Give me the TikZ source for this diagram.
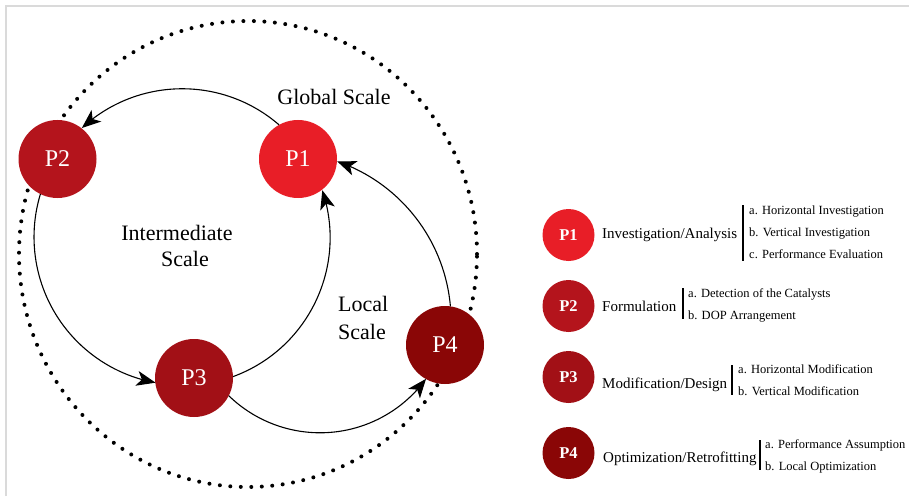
\documentclass[tikz,border=0pt]{standalone}
\usepackage{fontspec}
\setmainfont{Liberation Serif}
\usetikzlibrary{arrows.meta,bending}
\definecolor{pone}{RGB}{232,30,39}
\definecolor{ptwo}{RGB}{180,20,28}
\definecolor{pthree}{RGB}{162,16,22}
\definecolor{pfour}{RGB}{138,6,6}
\definecolor{framegray}{RGB}{218,218,218}
\tikzset{
  bignode/.style={circle, minimum size=78pt, inner sep=0pt, outer sep=0pt, text=white, font=\fontsize{24}{28}\selectfont},
  smallnode/.style={circle, minimum size=52pt, inner sep=0pt, outer sep=0pt, text=white, font=\bfseries\fontsize{16.5}{20}\selectfont},
  arr/.style={line width=1.1pt, -{Stealth[length=19pt,width=15pt,inset=5pt]}},
  scaletext/.style={inner sep=0pt, font=\fontsize{22}{27}\selectfont},
  legtitle/.style={inner sep=0pt, anchor=base west, font=\fontsize{15}{18}\selectfont},
  legitem/.style={inner sep=0pt, anchor=base west, font=\fontsize{12.5}{15}\selectfont},
  legbar/.style={line width=2.6pt},
  dotring/.style={line width=4pt, line cap=round, dash pattern=on 0pt off 10.5pt}
}
\begin{document}
\begin{tikzpicture}[x=1pt,y=1pt]
\useasboundingbox (0,0) rectangle (909,496);
% frame
\draw[framegray, line width=2pt] (6,0) -- (6,490) -- (909,490);
% dotted ring
\draw[dotring] (248,242) circle[x radius=229, y radius=233];
% main nodes
\node[bignode, fill=pone]   (P1) at (298,337) {P1};
\node[bignode, fill=ptwo]   (P2) at (57.5,337) {P2};
\node[bignode, fill=pthree] (P3) at (194,118) {P3};
\node[bignode, fill=pfour]  (P4) at (445,151) {P4};
% connectors
\draw[arr] (P1.119.4) arc[start angle=49.1, end angle=132.7, radius=148];
\draw[arr] (P2.244) arc[start angle=163.1, end angle=259.7, radius=148];
\draw[arr] (P3.2.9) arc[start angle=290.1, end angle=378.7, radius=148];
\draw[arr] (P3.-27.3) arc[start angle=225.8, end angle=324, radius=131];
\draw[arr] (P4.82) arc[start angle=5, end angle=71, radius=169];
% scale labels
\node[scaletext, anchor=base] (gs) at (334,391) {Global Scale};
\node[scaletext, anchor=base] (is1) at (177,255.3) {Intermediate};
\node[scaletext, anchor=base] (is2) at (185,229.3) {Scale};
\node[scaletext, anchor=base west] (ls1) at (338,185) {Local};
\node[scaletext, anchor=base west] (ls2) at (338,157) {Scale};
% legend P1
\node[smallnode, fill=pone] (L1) at (568.5,261) {P1};
\node[legtitle] (T1) at (602,258) {Investigation/Analysis};
\draw[legbar] (743,291) -- (743,235);
\node[legitem] (S1a) at (749,282) {a. Horizontal Investigation};
\node[legitem] (S1b) at (749,259.5) {b. Vertical Investigation};
\node[legitem] (S1c) at (749,238) {c. Performance Evaluation};
% legend P2
\node[smallnode, fill=ptwo] (L2) at (568.5,190) {P2};
\node[legtitle] (T2) at (602,185) {Formulation};
\draw[legbar] (683,208) -- (683,177);
\node[legitem] (S2a) at (688,199) {a. Detection of the Catalysts};
\node[legitem] (S2b) at (688,177) {b. DOP Arrangement};
% legend P3
\node[smallnode, fill=pthree] (L3) at (568.5,119) {P3};
\node[legtitle] (T3) at (602,108) {Modification/Design};
\draw[legbar] (732,131) -- (732,101);
\node[legitem] (S3a) at (738,123) {a. Horizontal Modification};
\node[legitem] (S3b) at (738,101) {b. Vertical Modification};
% legend P4
\node[smallnode, fill=pfour] (L4) at (568.5,43) {P4};
\node[legtitle] (T4) at (603,34) {Optimization/Retrofitting};
\draw[legbar] (760,56) -- (760,26);
\node[legitem] (S4a) at (765,48) {a. Performance Assumption};
\node[legitem] (S4b) at (765,26) {b. Local Optimization};
\end{tikzpicture}
\end{document}
